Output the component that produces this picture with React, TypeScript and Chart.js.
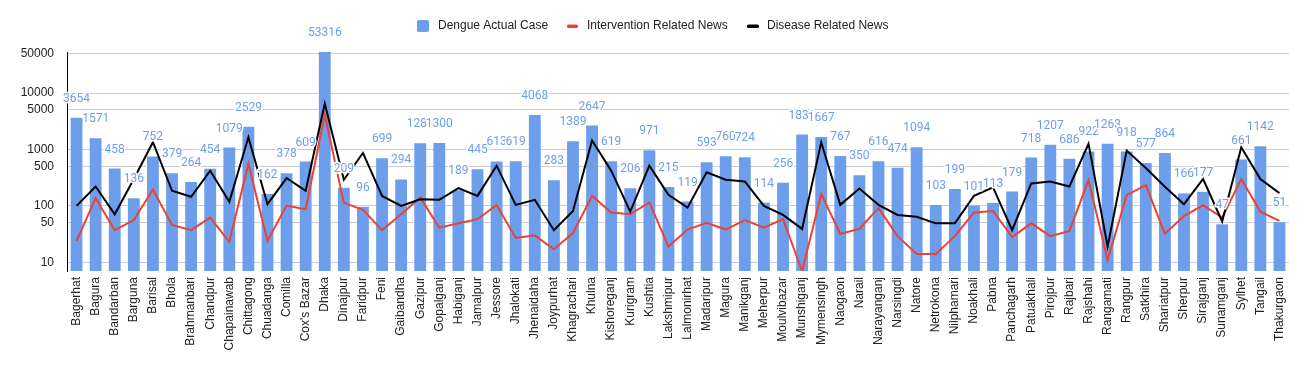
import { useEffect, useRef } from "react";
import { Chart, registerables } from "chart.js";

Chart.register(...registerables);

const categories = [
  "Bagerhat", "Bagura", "Bandarban", "Barguna", "Barisal", "Bhola", "Brahmanbari", "Chandpur",
  "Chapainawab", "Chittagong", "Chuadanga", "Comilla", "Cox's Bazar", "Dhaka", "Dinajpur", "Faridpur",
  "Feni", "Gaibandha", "Gazipur", "Gopalganj", "Habiganj", "Jamalpur", "Jessore", "Jhalokati",
  "Jhenaidaha", "Joypurhat", "Khagrachari", "Khulna", "Kishoreganj", "Kurigram", "Kushtia", "Lakshmipur",
  "Lalmonirhat", "Madaripur", "Magura", "Manikganj", "Meherpur", "Moulvibazar", "Munshiganj", "Mymensingh",
  "Naogaon", "Narail", "Narayanganj", "Narsingdi", "Natore", "Netrokona", "Nilphamari", "Noakhali",
  "Pabna", "Panchagarh", "Patuakhali", "Pirojpur", "Rajbari", "Rajshahi", "Rangamati", "Rangpur",
  "Satkhira", "Shariatpur", "Sherpur", "Sirajganj", "Sunamganj", "Sylhet", "Tangail", "Thakurgaon",
];

const dengueCases = [
  3654, 1571, 458, 136, 752, 379, 264, 454,
  1079, 2529, 162, 378, 609, 53316, 209, 96,
  699, 294, 1281, 1300, 189, 445, 613, 619,
  4068, 283, 1389, 2647, 619, 206, 971, 215,
  119, 593, 760, 724, 114, 256, 1831, 1667,
  767, 350, 616, 474, 1094, 103, 199, 101,
  113, 179, 718, 1207, 686, 922, 1263, 918,
  577, 864, 166, 177, 47, 661, 1142, 51,
];

const interventionNews = [
  24, 137, 37, 56, 195, 46, 37, 62,
  23, 552, 24, 101, 87, 4100, 113, 85,
  37, 71, 140, 41, 49, 58, 104, 27,
  30, 17, 33, 150, 76, 71, 115, 19,
  38, 50, 38, 56, 41, 58, 7, 161,
  32, 39, 91, 29, 14, 14, 29, 76,
  81, 28, 49, 29, 36, 286, 11, 155,
  233, 32, 66, 103, 62, 299, 79, 54,
];

const diseaseNews = [
  100, 220, 71, 300, 1340, 185, 145, 420,
  118, 1640, 107, 311, 185, 6500, 290, 866,
  150, 100, 131, 128, 206, 150, 515, 104,
  128, 37, 81, 1435, 420, 79, 515, 157,
  93, 392, 290, 271, 100, 69, 39, 1336,
  104, 203, 104, 69, 64, 49, 49, 150,
  212, 37, 250, 271, 220, 1253, 19, 953,
  469, 218, 107, 299, 53, 1090, 299, 168,
];

const yTickValues = [10, 50, 100, 500, 1000, 5000, 10000, 50000];

const legendItems = ["Dengue Actual Case", "Intervention Related News", "Disease Related News"];

const BAR_COLOR = "#6d9eeb";
const RED = "#ea4335";
const BLACK = "#000000";
const TEXT = "#222222";
const FONT = "Liberation Sans, Arial, sans-serif";

const labelPlugin = {
  id: "barValueLabels",
  afterDatasetsDraw(chart: any) {
    const meta = chart.getDatasetMeta(0);
    const ctx = chart.ctx;
    ctx.save();
    ctx.font = "12px Roboto, sans-serif";
    ctx.textAlign = "center";
    ctx.textBaseline = "middle";
    ctx.lineJoin = "round";
    ctx.lineWidth = 3;
    ctx.strokeStyle = "#ffffff";
    ctx.fillStyle = BAR_COLOR;
    meta.data.forEach((el: any, i: number) => {
      const txt = String(dengueCases[i]);
      const x = el.x;
      const y = el.y - 19;
      ctx.strokeText(txt, x, y);
      ctx.fillText(txt, x, y);
    });
    ctx.restore();
  },
};

const legendPlugin = {
  id: "customLegend",
  afterDraw(chart: any) {
    const ctx = chart.ctx;
    ctx.save();
    ctx.font = `12px ${FONT}`;
    ctx.textBaseline = "middle";
    ctx.textAlign = "left";
    const cy = 26;
    // blue square
    ctx.fillStyle = BAR_COLOR;
    ctx.beginPath();
    (ctx as any).roundRect(417, 20, 12, 12, 2);
    ctx.fill();
    ctx.fillStyle = TEXT;
    ctx.fillText(legendItems[0], 438, cy);
    // red line marker
    ctx.fillStyle = RED;
    ctx.beginPath();
    (ctx as any).roundRect(567, 24.5, 11, 3.5, 1.5);
    ctx.fill();
    ctx.fillStyle = TEXT;
    ctx.fillText(legendItems[1], 587, cy);
    // black line marker
    ctx.fillStyle = BLACK;
    ctx.beginPath();
    (ctx as any).roundRect(747, 24.5, 12, 3.5, 1.5);
    ctx.fill();
    ctx.fillStyle = TEXT;
    ctx.fillText(legendItems[2], 767, cy);
    ctx.restore();
  },
};

export default function App() {
  const canvasRef = useRef<HTMLCanvasElement | null>(null);

  useEffect(() => {
    document.body.style.margin = "0";
    const canvas = canvasRef.current;
    if (!canvas) return;
    const chart = new Chart(canvas, {
      type: "bar",
      data: {
        labels: categories,
        datasets: [
          {
            type: "bar",
            label: legendItems[0],
            data: dengueCases,
            backgroundColor: BAR_COLOR,
            borderWidth: 0,
            barPercentage: 0.62,
            categoryPercentage: 1,
            order: 3,
          } as any,
          {
            type: "line",
            label: legendItems[1],
            data: interventionNews,
            borderColor: RED,
            backgroundColor: RED,
            borderWidth: 2,
            pointRadius: 0,
            tension: 0,
            order: 2,
          } as any,
          {
            type: "line",
            label: legendItems[2],
            data: diseaseNews,
            borderColor: BLACK,
            backgroundColor: BLACK,
            borderWidth: 2,
            pointRadius: 0,
            tension: 0,
            order: 1,
          } as any,
        ],
      },
      options: {
        responsive: false,
        animation: false,
        devicePixelRatio: 1,
        layout: { padding: { top: 52, right: 20, left: 0, bottom: 0 } },
        plugins: {
          legend: { display: false },
          tooltip: { enabled: false },
        },
        scales: {
          x: {
            type: "category",
            offset: true,
            grid: { display: false, drawTicks: false },
            border: { display: false },
            ticks: {
              autoSkip: false,
              minRotation: 90,
              maxRotation: 90,
              padding: 6,
              color: TEXT,
              font: { family: FONT, size: 12 },
            },
            afterFit: (scale: any) => {
              scale.height = 102;
            },
          },
          y: {
            type: "logarithmic",
            min: 7,
            max: 53316,
            grid: { color: "#cccccc", lineWidth: 1, drawTicks: false },
            border: { display: true, color: "#000000", width: 1 },
            ticks: {
              padding: 13,
              color: TEXT,
              font: { family: FONT, size: 12 },
              callback: (v: any) => String(v),
            },
            afterBuildTicks: (scale: any) => {
              scale.ticks = yTickValues.map((v) => ({ value: v }));
            },
            afterFit: (scale: any) => {
              scale.width = 67;
            },
          },
        },
      },
      plugins: [labelPlugin, legendPlugin],
    });
    return () => chart.destroy();
  }, []);

  return (
    <div style={{ width: 1309, height: 373, position: "relative" }}>
      <canvas ref={canvasRef} width={1309} height={373} />
    </div>
  );
}
